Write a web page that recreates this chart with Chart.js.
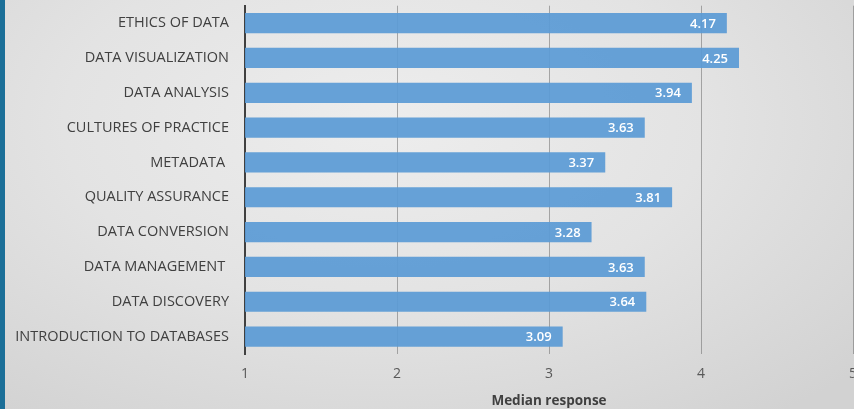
<!DOCTYPE html>
<html>
<head>
<meta charset="utf-8">
<script src="https://cdn.jsdelivr.net/npm/chart.js@4"></script>
<style>
html,body{margin:0;padding:0;width:854px;height:409px;overflow:hidden;}
body{background:radial-gradient(ellipse 75% 90% at 45% 30%, #ededed 0%, #e3e3e3 50%, #d2d2d2 100%);position:relative;}
#strip{position:absolute;left:0;top:0;width:5px;height:409px;background:#1b6f98;z-index:2;}
#wrap{position:absolute;left:0;top:-19px;width:880px;height:428px;}
</style>
</head>
<body>
<div id="strip"></div>
<div id="wrap"><canvas id="c" width="880" height="428"></canvas></div>
<script>
const categories = ["ETHICS OF DATA","DATA VISUALIZATION","DATA ANALYSIS","CULTURES OF PRACTICE","METADATA ","QUALITY ASSURANCE","DATA CONVERSION","DATA MANAGEMENT ","DATA DISCOVERY","INTRODUCTION TO DATABASES"];
const medianValues = [4.17,4.25,3.94,3.63,3.37,3.81,3.28,3.63,3.64,3.09];
const xTicks = [1,2,3,4,5];
const axisTitle = "Median response";
const FONT = '"Open Sans", Lato, sans-serif';

const labelPlugin = {
  id:'barLabels',
  afterDatasetsDraw(chart){
    const ctx = chart.ctx;
    const meta = chart.getDatasetMeta(0);
    ctx.save();
    ctx.fillStyle = '#ffffff';
    ctx.font = '600 13px ' + FONT;
    ctx.textAlign = 'right';
    ctx.textBaseline = 'middle';
    meta.data.forEach((bar,i)=>{
      ctx.fillText(medianValues[i].toFixed(2), bar.x - 11, bar.y + 1);
    });
    ctx.restore();
  }
};

new Chart(document.getElementById('c'), {
  type:'bar',
  data:{labels:categories, datasets:[{data:medianValues, backgroundColor:'rgba(91,155,213,0.93)', borderWidth:0, barPercentage:0.58, categoryPercentage:1.0}]},
  options:{
    indexAxis:'y',
    responsive:false,
    animation:false,
    layout:{padding:{top:5,right:27,left:0,bottom:0}},
    plugins:{legend:{display:false},tooltip:{enabled:false}},
    scales:{
      x:{
        min:1,max:5,
        z:1,
        afterBuildTicks(s){ s.ticks = xTicks.map(v=>({value:v})); },
        afterFit(s){ s.height = 55; },
        grid:{color:'rgba(110,110,110,0.55)', lineWidth:1, drawTicks:false},
        border:{display:false},
        ticks:{color:'#595959', font:{size:14, family:FONT}, padding:12},
        title:{display:true, text:axisTitle, color:'#404040', font:{size:13.5, weight:'bold', family:FONT}, padding:{top:3,bottom:0}}
      },
      y:{
        afterFit(s){ s.width = 245; },
        grid:{display:false, drawTicks:false},
        border:{display:true, color:'#404040', width:2},
        ticks:{color:'#404040', font:{size:14.5, family:FONT}, padding:16}
      }
    }
  },
  plugins:[labelPlugin]
});
</script>
</body>
</html>
